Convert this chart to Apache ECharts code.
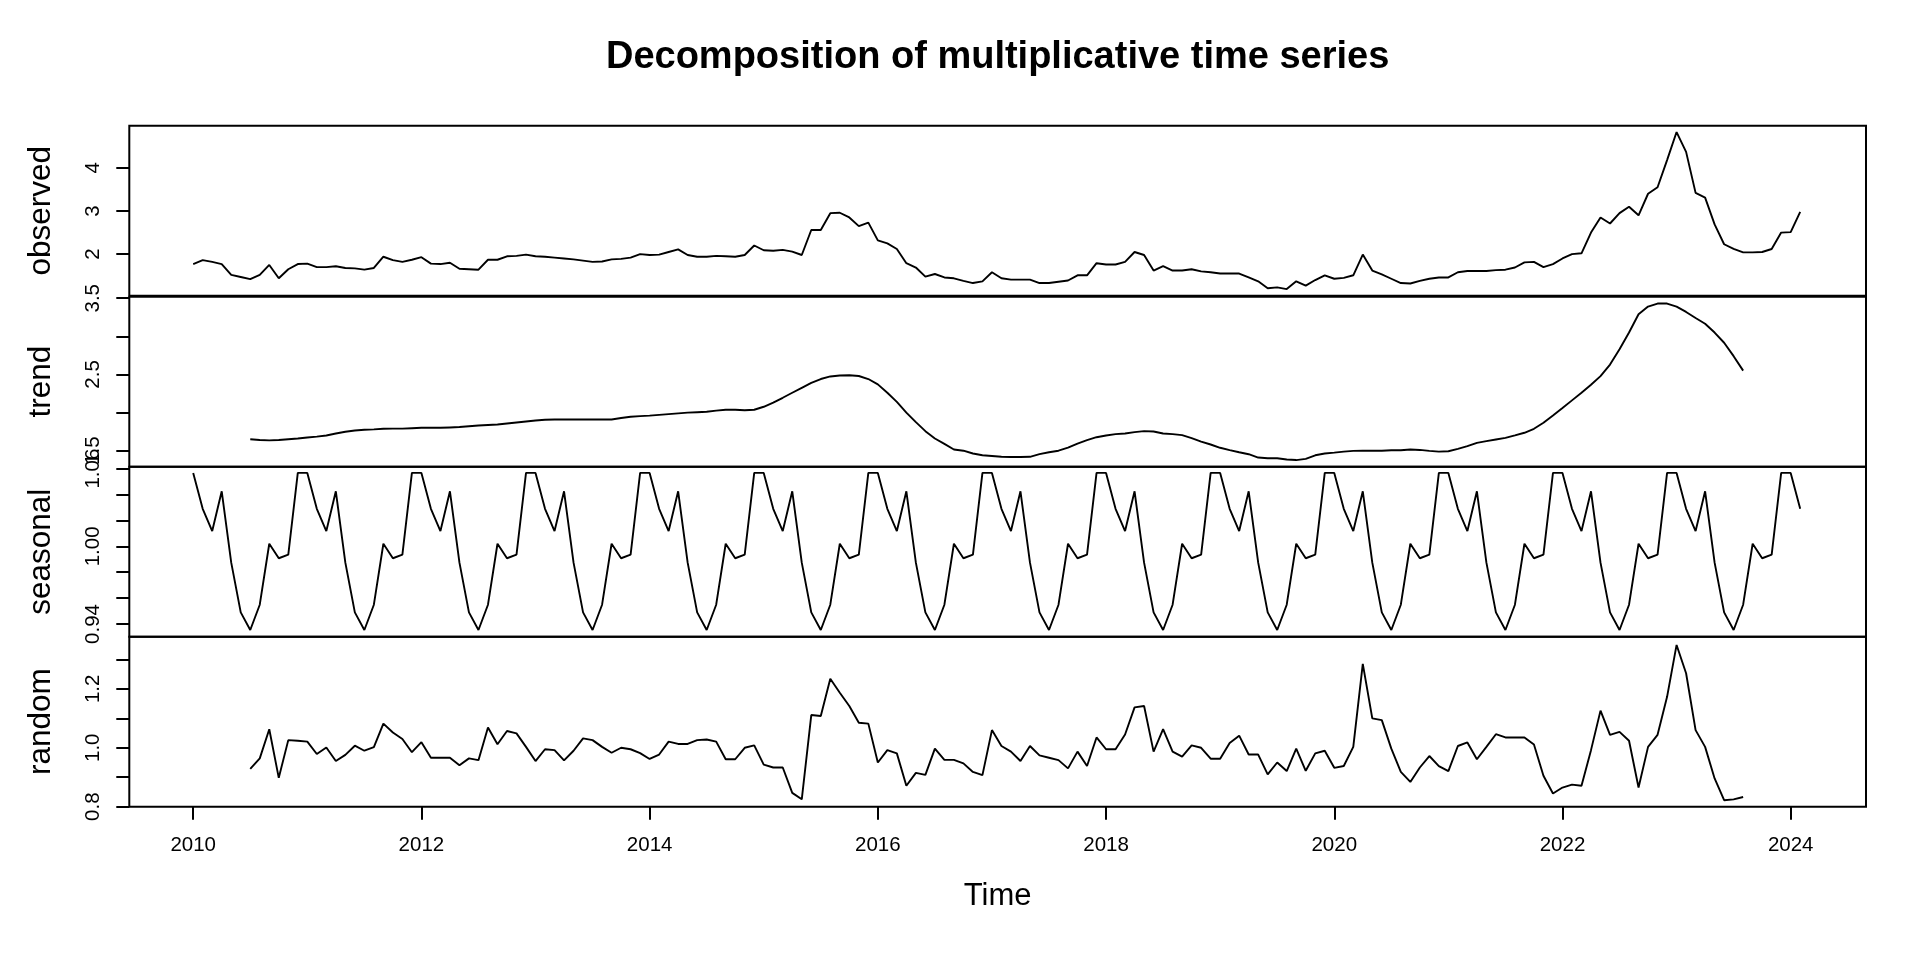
<!DOCTYPE html>
<html>
<head>
<meta charset="utf-8">
<script src="https://cdn.jsdelivr.net/npm/echarts@6/dist/echarts.min.js"></script>
<style>
html,body{margin:0;padding:0;background:#fff;}
#chart{width:1920px;height:960px;}
</style>
</head>
<body>
<div id="chart"></div>
<script>
// ---- data (monthly, Jan 2010 .. Feb 2024) ----
const startYear = 2010;
const monthsPerYear = 12;

const observed = [
1.77,1.86,1.82,1.77,1.52,1.47,1.42,1.52,1.75,1.44,1.65,1.77,
1.78,1.70,1.70,1.72,1.68,1.67,1.64,1.68,1.94,1.86,1.82,1.87,
1.93,1.78,1.77,1.80,1.66,1.65,1.64,1.87,1.87,1.95,1.96,1.99,
1.95,1.94,1.92,1.90,1.88,1.85,1.82,1.83,1.88,1.89,1.92,2.00,
1.98,1.99,2.05,2.11,1.98,1.94,1.94,1.96,1.95,1.94,1.98,2.20,
2.09,2.08,2.10,2.06,1.98,2.56,2.56,2.95,2.96,2.85,2.65,2.73,
2.32,2.25,2.12,1.79,1.69,1.48,1.54,1.46,1.44,1.38,1.33,1.37,
1.58,1.44,1.41,1.41,1.41,1.33,1.33,1.36,1.39,1.51,1.51,1.79,
1.76,1.76,1.82,2.05,1.98,1.62,1.72,1.62,1.62,1.65,1.60,1.58,
1.55,1.55,1.55,1.46,1.37,1.21,1.23,1.19,1.37,1.27,1.40,1.51,
1.43,1.45,1.51,1.99,1.62,1.53,1.43,1.33,1.32,1.38,1.43,1.46,
1.46,1.58,1.61,1.61,1.61,1.63,1.64,1.69,1.81,1.82,1.70,1.77,
1.90,2.00,2.02,2.50,2.85,2.71,2.95,3.10,2.90,3.40,3.55,4.18,
4.83,4.37,3.42,3.31,2.69,2.23,2.12,2.04,2.04,2.05,2.12,2.50,
2.51,2.98
];

// trend and random start at month index 6 (Jul 2010), end Aug 2023
const trendStart = 6;
const trend = [
1.65,1.64,1.635,1.64,1.65,1.66,
1.673,1.685,1.70,1.725,1.748,1.765,1.774,1.78,1.787,1.79,1.79,1.795,
1.80,1.80,1.80,1.805,1.81,1.82,1.83,1.837,1.844,1.857,1.87,1.883,
1.896,1.905,1.91,1.91,1.91,1.91,1.91,1.91,1.91,1.928,1.945,1.953,
1.96,1.97,1.98,1.99,2.00,2.005,2.01,2.025,2.037,2.037,2.03,2.037,
2.076,2.13,2.194,2.26,2.325,2.39,2.44,2.474,2.487,2.49,2.48,2.44,
2.37,2.26,2.14,2.00,1.874,1.756,1.66,1.59,1.516,1.50,1.463,1.44,
1.43,1.42,1.417,1.417,1.42,1.455,1.48,1.50,1.54,1.594,1.638,1.677,
1.70,1.717,1.725,1.743,1.756,1.752,1.725,1.717,1.704,1.665,1.62,1.581,
1.538,1.507,1.48,1.454,1.41,1.40,1.40,1.385,1.377,1.393,1.44,1.463,
1.475,1.488,1.497,1.50,1.50,1.50,1.506,1.506,1.515,1.51,1.497,1.488,
1.493,1.524,1.559,1.603,1.625,1.647,1.668,1.70,1.735,1.787,1.866,1.962,
2.06,2.16,2.26,2.365,2.478,2.63,2.83,3.05,3.29,3.39,3.43,3.43,
3.39,3.32,3.24,3.165,3.05,2.916,2.74,2.55
];

// seasonal factors, Jan..Dec
const seasonalFactors = [1.0567,1.029,1.0118,1.0425,0.9874,0.949,0.9354,0.9549,1.002,0.9908,0.9936,1.0567];

const randomStart = 6;
const random = [
0.928,0.964,1.063,0.898,1.026,1.024,
1.021,0.979,1.001,0.955,0.976,1.007,0.99,1.002,1.082,1.052,1.03,0.985,
1.019,0.966,0.966,0.966,0.941,0.964,0.958,1.069,1.012,1.057,1.049,1.003,
0.955,0.995,0.992,0.957,0.99,1.032,1.026,1.003,0.983,1.0,0.995,0.982,
0.962,0.977,1.021,1.013,1.013,1.026,1.028,1.021,0.961,0.961,1.0,1.008,
0.943,0.933,0.933,0.847,0.825,1.111,1.108,1.234,1.187,1.142,1.085,1.082,
0.95,0.992,0.981,0.871,0.915,0.908,0.997,0.959,0.959,0.947,0.918,0.907,
1.06,1.006,0.987,0.955,1.006,0.974,0.966,0.958,0.93,0.987,0.938,1.035,
0.995,0.995,1.045,1.137,1.142,0.987,1.063,0.987,0.97,1.008,1.0,0.963,
0.963,1.016,1.041,0.977,0.977,0.91,0.95,0.921,0.997,0.922,0.981,0.99,
0.932,0.938,1.003,1.285,1.10,1.094,0.997,0.918,0.884,0.933,0.972,0.938,
0.921,1.006,1.018,0.961,1.003,1.046,1.035,1.035,1.035,1.011,0.905,0.845,
0.865,0.875,0.871,0.992,1.126,1.044,1.054,1.024,0.865,1.003,1.044,1.173,
1.349,1.253,1.06,1.003,0.896,0.822,0.825,0.833
];

// axis ticks / labels
const xTicks = [2010,2012,2014,2016,2018,2020,2022,2024];
const obsTicks = [2,3,4];
const obsLabels = [2,3,4];
const trendTicks = [1.5,2.0,2.5,3.0,3.5];
const trendLabels = [1.5,2.5,3.5];
const seasTicks = [0.94,0.96,0.98,1.00,1.02,1.04,1.06];
const seasLabels = [0.94,1.00,1.06];
const randTicks = [0.8,0.9,1.0,1.1,1.2,1.3];
const randLabels = [0.8,1.0,1.2];
const panelNames = ['observed','trend','seasonal','random'];

// ---- build ----
const t = i => startYear + i / monthsPerYear;
const obsData = observed.map((v,i)=>[t(i), v]);
const trendData = trend.map((v,i)=>[t(i+trendStart), v]);
const seasData = observed.map((_,i)=>[t(i), seasonalFactors[i % 12]]);
const randData = random.map((v,i)=>[t(i+randomStart), v]);

const FONT = 'Liberation Sans, Arial, sans-serif';
const L = 129.3, R = 1920 - 1866;
const tops = [125.7, 296.7, 466.7, 636.7];
const H = 170;

const yRanges = [[1.037,4.977],[1.29,3.52],[0.9302,1.0615],[0.8,1.377]];
const tickSets = [obsTicks, trendTicks, seasTicks, randTicks];
const labelSets = [obsLabels, trendLabels, seasLabels, randLabels];
const fmts = [v=>String(v), v=>v.toFixed(1), v=>v.toFixed(2), v=>v.toFixed(1)];
const datasets = [obsData, trendData, seasData, randData];

const grids = tops.map(tp => ({left:L, right:R, top:tp, height:H, show:true, borderColor:'#000', borderWidth:2, backgroundColor:'transparent', containLabel:false}));

const xAxes = tops.map((_,k)=>({
  type:'value', gridIndex:k, min:2009.44, max:2024.66,
  axisLine:{show:false}, splitLine:{show:false},
  axisTick:{show:k===3, customValues:xTicks, length:13, lineStyle:{color:'#000', width:2}},
  axisLabel:{show:k===3, customValues:xTicks, margin:28, fontSize:20.5, color:'#000', fontFamily:FONT, formatter:v=>String(v)},
  name: k===3 ? 'Time' : '', nameLocation:'middle', nameGap:74,
  nameTextStyle:{fontSize:31, color:'#000', fontFamily:FONT}
}));

const yAxes = tops.map((_,k)=>({
  type:'value', gridIndex:k, min:yRanges[k][0], max:yRanges[k][1],
  axisLine:{show:false}, splitLine:{show:false},
  axisTick:{show:true, customValues:tickSets[k], length:13, lineStyle:{color:'#000', width:2}},
  axisLabel:{show:true, customValues:labelSets[k], rotate:90, margin:25, fontSize:20.5, color:'#000', fontFamily:FONT, formatter:fmts[k]},
  name: panelNames[k], nameLocation:'middle', nameGap:72, nameRotate:90,
  nameTextStyle:{fontSize:31.5, color:'#000', fontFamily:FONT}
}));

const series = datasets.map((d,k)=>({
  type:'line', xAxisIndex:k, yAxisIndex:k, data:d, showSymbol:false, symbol:'none',
  lineStyle:{color:'#000', width:1.9}, silent:true, animation:false
}));

const chart = echarts.init(document.getElementById('chart'), null, {renderer:'canvas'});
chart.setOption({
  backgroundColor:'#fff',
  animation:false,
  grid:grids, xAxis:xAxes, yAxis:yAxes, series:series,
  graphic:[{
    type:'text', x:(L + 1866)/2, y:58,
    style:{text:'Decomposition of multiplicative time series', fill:'#000',
      font:'bold 38px ' + FONT, textAlign:'center', textVerticalAlign:'middle'}
  }]
});
</script>
</body>
</html>
